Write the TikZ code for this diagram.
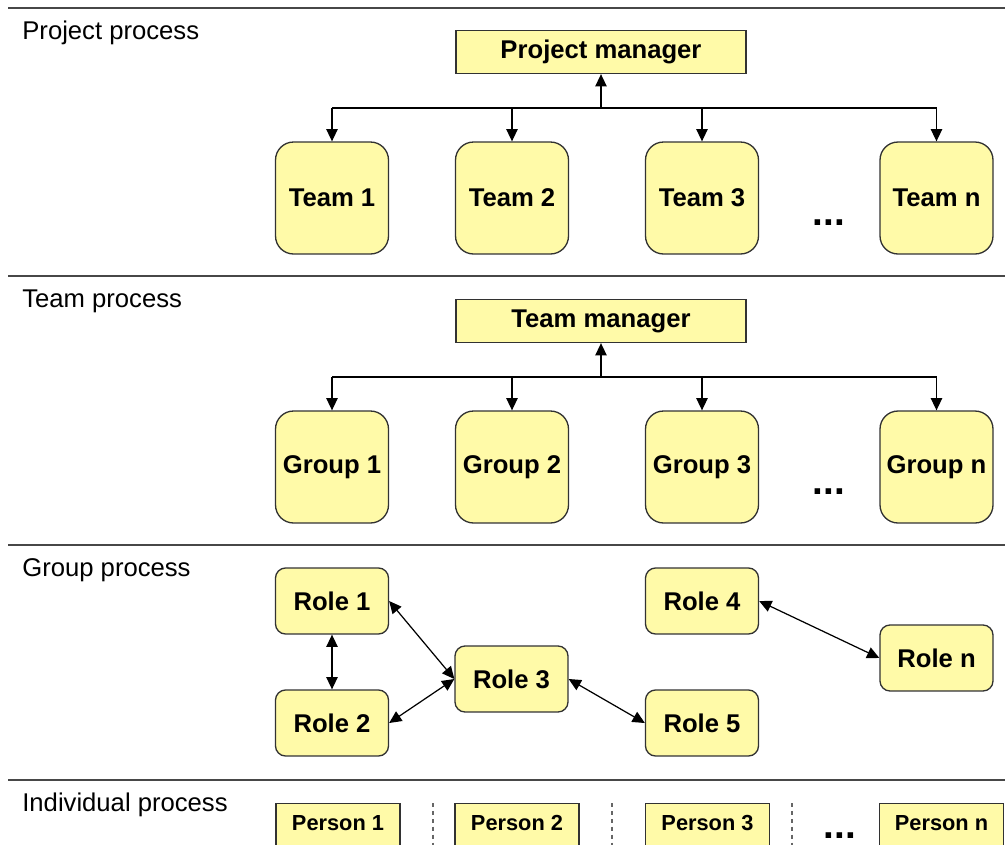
\documentclass[tikz,border=0pt]{standalone}
\usepackage{fontspec}
\setmainfont{Liberation Sans}
\usetikzlibrary{arrows.meta}

\definecolor{boxfill}{RGB}{255,250,168}
\definecolor{boxline}{RGB}{50,50,50}

\tikzset{
	box/.style={draw=boxline, fill=boxfill, line width=0.75pt, inner xsep=2pt,
		font=\fontsize{14.6}{17}\selectfont\bfseries},
	managerbox/.style={box, minimum width=5.8cm, minimum height=0.86cm},
	unitbox/.style={box, rounded corners=0.36cm, minimum width=2.26cm, minimum height=2.24cm},
	rolebox/.style={box, rounded corners=0.2cm, minimum width=2.26cm, minimum height=1.32cm},
	personbox/.style={box, font=\fontsize{12.4}{14}\selectfont\bfseries, anchor=north,
		minimum width=2.48cm, inner ysep=0pt, text height=0.54cm, text depth=0.66cm},
	levellabel/.style={anchor=base west, inner xsep=0pt, font=\fontsize{14.6}{17}\selectfont},
	dots/.style={anchor=base, font=\fontsize{22}{24}\selectfont\bfseries},
	sepline/.style={draw=black!72, line width=0.9pt},
	sepdash/.style={draw=black!60, line width=0.6pt, dash pattern=on 2.5pt off 2pt},
	tri/.style={line width=0.7pt, -{Triangle[length=7pt,width=6.5pt]}},
	bitri/.style={line width=0.7pt, {Triangle[length=7pt,width=6.5pt]}-{Triangle[length=7pt,width=6.5pt]}}
}

\newcommand{\drawlevel}[3]{
	\draw[sepline] (8,#2) -- (1005,#2);
	\node[levellabel] (#1) at (22,#2+31) {#3};
}
\newcommand{\drawtree}[4]{
	\node[managerbox] (#1m) at (601,#2+52) {#3};
	\coordinate (#1j) at (601,#2+108);
	\draw[tri] (#1j) -- (#1m);
	\foreach \i/\x in {1/332,2/512,3/702,n/936.5} {
		\node[unitbox] (#1\i) at (\x,#2+198) {#4 \i};
		\draw[tri] (#1j -| #1\i) -- (#1\i);
	}
	\draw[line width=0.7pt] (#1j -| #11) -- (#1j -| #1n);
	\node[dots] (#1dots) at (829,#2+225) {...};
}

\begin{document}
\begin{tikzpicture}[x=0.02cm,y=-0.02cm]
	\useasboundingbox (0,0) rectangle (1005,845);
	\clip (0,0) rectangle (1005,845);

	\drawlevel{projlabel}{8}{Project process}
	\drawtree{t}{0}{Project manager}{Team}

	\drawlevel{teamlabel}{276}{Team process}
	\drawtree{g}{269}{Team manager}{Group}

	\drawlevel{grouplabel}{545}{Group process}
	\node[rolebox] (r1) at (332,601) {Role 1};
	\node[rolebox] (r2) at (332,723) {Role 2};
	\node[rolebox] (r3) at (511.5,679) {Role 3};
	\node[rolebox] (r4) at (702,601) {Role 4};
	\node[rolebox] (r5) at (702,723) {Role 5};
	\node[rolebox] (rn) at (936.5,658) {Role n};
	\draw[bitri] (r1) -- (r2);
	\draw[bitri] (r1.east) -- (r3.west);
	\draw[bitri] (r2.east) -- (r3.west);
	\draw[bitri] (r3.east) -- (r5.west);
	\draw[bitri] (r4.east) -- (rn.west);

	\drawlevel{indlabel}{780}{Individual process}
	\foreach \i/\x in {1/338,2/517,3/707.5,n/941.5}
		\node[personbox] (p\i) at (\x,803) {Person \i};
	\foreach \x in {433,612,792}
		\draw[sepdash] (\x,803) -- (\x,845);
	\node[dots] (pdots) at (840,838) {...};
\end{tikzpicture}
\end{document}
